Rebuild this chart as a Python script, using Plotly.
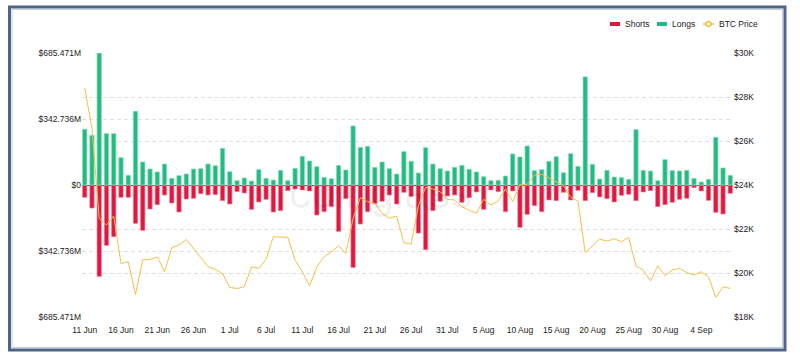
import plotly.graph_objects as go
import pandas as pd

dates = pd.date_range("2022-06-11", "2022-09-08", freq="D")

longs = [289.4, 258.2, 685.471, 266.9, 266.9, 142.1, 50.3, 383.0, 119.6, 83.2,
         67.6, 109.2, 34.7, 48.5, 57.2, 83.2, 84.9, 109.2, 100.5, 190.6,
         69.3, 22.5, 36.4, 20.8, 79.7, 34.7, 26.0, 76.3, 22.5, 86.7,
         149.0, 124.8, 95.3, 39.9, 32.9, 102.2, 78.0, 306.7, 195.8, 201.0,
         91.8, 119.6, 84.9, 57.2, 173.3, 123.0, 62.4, 194.1, 109.2, 84.9,
         72.8, 91.8, 102.2, 81.5, 67.6, 43.3, 22.5, 24.3, 46.8, 161.2,
         145.6, 202.8, 74.5, 79.7, 123.0, 147.3, 64.1, 162.9, 97.0, 561.5,
         107.4, 31.2, 76.3, 41.6, 38.1, 29.5, 287.7, 76.3, 72.8, 22.5,
         131.7, 74.5, 72.8, 76.3, 34.7, 15.6, 29.5, 247.8, 88.4, 50.3]

shorts = [64.1, 119.6, 474.8, 313.7, 268.6, 64.1, 64.1, 199.3, 235.7, 124.8,
          102.2, 52.0, 93.6, 140.4, 72.8, 69.3, 45.1, 52.0, 50.3, 81.5,
          98.8, 34.7, 41.6, 126.5, 88.4, 74.5, 140.4, 133.4, 29.5, 20.8,
          26.0, 31.2, 156.0, 138.6, 112.6, 240.9, 71.1, 428.1, 202.8, 138.6,
          97.0, 84.9, 52.0, 98.8, 38.1, 58.9, 249.6, 336.2, 133.4, 84.9,
          57.2, 52.0, 90.1, 65.9, 36.4, 126.5, 26.0, 34.7, 138.6, 31.2,
          220.1, 152.5, 107.4, 138.6, 78.0, 81.5, 38.1, 78.0, 27.7, 81.5,
          39.9, 62.4, 71.1, 88.4, 53.7, 48.5, 81.5, 36.4, 29.5, 112.6,
          102.2, 90.1, 74.5, 69.3, 13.9, 31.2, 79.7, 142.1, 150.8, 43.3]

btc_price = [28400, 26579, 22483, 22180, 22589, 20435, 20511, 19024, 20602, 20617,
             20738, 20056, 21148, 21269, 21527, 21118, 20738, 20283, 20162, 19965,
             19343, 19297, 19373, 20283, 20208, 20617, 21649, 21634, 21618, 20587,
             20056, 19419, 20283, 20738, 20966, 21239, 20890, 22483, 23424, 23242,
             23166, 22711, 22483, 22589, 21376, 21315, 23059, 23894, 23818, 23697,
             23348, 23318, 23014, 22862, 22711, 23348, 23090, 23272, 23818, 23242,
             24000, 24030, 24455, 24485, 24334, 24152, 23970, 23439, 23272, 20921,
             21239, 21543, 21451, 21558, 21421, 21618, 20314, 20132, 19646, 20329,
             19874, 20132, 20208, 20025, 19904, 20056, 19828, 18888, 19373, 19297]

left_tickvals = [-685.471, -342.736, 0, 342.736, 685.471]
left_ticktext = ["$685.471M", "$342.736M", "$0", "$342.736M", "$685.471M"]
right_tickvals = [18000, 20000, 22000, 24000, 26000, 28000, 30000]
right_ticktext = ["$18K", "$20K", "$22K", "$24K", "$26K", "$28K", "$30K"]

GREEN = "#22bb82"
RED = "#e0173f"
GOLD = "#f2c14a"
FONT = "Liberation Sans, Arial, sans-serif"

W, H = 800, 364
L, R, T, B = 82, 733, 53, 317
DAY = 86400000

def px(x):
    return (x - L) / (R - L)

def py(y):
    return (B - y) / (B - T)

fig = go.Figure()
fig.add_trace(go.Bar(x=dates, y=[-v for v in shorts], name="Shorts",
                     marker=dict(color=RED, line=dict(color="rgba(240,130,150,0.7)", width=1)),
                     width=0.6 * DAY, yaxis="y"))
fig.add_trace(go.Bar(x=dates, y=longs, name="Longs",
                     marker=dict(color=GREEN, line=dict(color="rgba(140,220,190,0.7)", width=1)),
                     width=0.6 * DAY, yaxis="y"))
fig.add_trace(go.Scatter(x=dates, y=btc_price, name="BTC Price", mode="lines",
                         line=dict(color=GOLD, width=1), yaxis="y2"))

grid_col = "#dedede"
fig.update_layout(
    width=W, height=H,
    margin=dict(l=L, r=W - R, t=T, b=H - B),
    paper_bgcolor="white", plot_bgcolor="white",
    barmode="relative",
    showlegend=False,
    font=dict(family=FONT, size=8.5, color="#333"),
    xaxis=dict(type="date",
               range=[dates[0] - pd.Timedelta(hours=9), dates[-1] + pd.Timedelta(hours=9)],
               tick0="2022-06-11", dtick=5 * DAY, tickformat="%-d %b",
               showgrid=False, zeroline=False, showline=False,
               ticks="outside", ticklen=5, tickcolor="rgba(0,0,0,0)",
               tickfont=dict(size=8.5, color="#222")),
    yaxis=dict(range=[-685.471, 685.471], tickvals=left_tickvals, ticktext=left_ticktext,
               showgrid=True, gridcolor=grid_col, griddash="4px,3px", gridwidth=1,
               zeroline=True, zerolinecolor="#666", zerolinewidth=1,
               ticks="", tickfont=dict(size=8.5, color="#222")),
    yaxis2=dict(range=[18000, 30000], overlaying="y", side="right",
                tickvals=right_tickvals, ticktext=right_ticktext,
                showgrid=True, gridcolor=grid_col, griddash="4px,3px", gridwidth=1,
                zeroline=False, ticks="", tickfont=dict(size=8.5, color="#222")),
)

# watermark
fig.add_annotation(x=px(380), y=py(192), xref="paper", yref="paper", text="coinglass",
                   showarrow=False, font=dict(size=44, color="rgba(0,0,0,0.06)", family=FONT))

shapes = []
# frame
shapes.append(dict(type="rect", xref="paper", yref="paper",
                   x0=px(9.5), x1=px(785), y0=py(7), y1=py(350),
                   line=dict(color="#4f6486", width=3), layer="above"))
shapes.append(dict(type="rect", xref="paper", yref="paper",
                   x0=px(12), x1=px(782.5), y0=py(9.5), y1=py(347.5),
                   line=dict(color="#c5cfdc", width=1), layer="above"))
# legend
ly = 24
shapes.append(dict(type="rect", xref="paper", yref="paper", x0=px(610), x1=px(620),
                   y0=py(ly - 2), y1=py(ly + 2), fillcolor=RED, line=dict(width=0)))
shapes.append(dict(type="rect", xref="paper", yref="paper", x0=px(657), x1=px(667),
                   y0=py(ly - 2), y1=py(ly + 2), fillcolor=GREEN, line=dict(width=0)))
shapes.append(dict(type="line", xref="paper", yref="paper", x0=px(703), x1=px(714),
                   y0=py(ly), y1=py(ly), line=dict(color=GOLD, width=1.5)))
shapes.append(dict(type="circle", xref="paper", yref="paper", x0=px(706), x1=px(711),
                   y0=py(ly - 2.5), y1=py(ly + 2.5), fillcolor="white", line=dict(color=GOLD, width=1.5)))
fig.update_layout(shapes=shapes)

for label, xpos in [("Shorts", 623), ("Longs", 670), ("BTC Price", 717)]:
    fig.add_annotation(x=px(xpos), y=py(ly), xref="paper", yref="paper", text=label,
                       showarrow=False, xanchor="left", yanchor="middle",
                       font=dict(size=8.5, color="#222", family=FONT))

fig.write_html("out.html")
